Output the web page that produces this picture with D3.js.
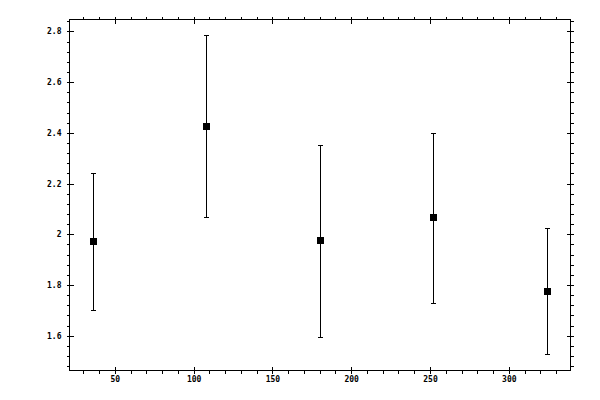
<!DOCTYPE html>
<html>
<head>
<meta charset="utf-8">
<script src="https://cdn.jsdelivr.net/npm/d3@7"></script>
<style>
  body { margin: 0; background: #fff; }
  text { font-family: "DejaVu Sans Mono", monospace; font-size: 8px; font-weight: bold; fill: #000; }
</style>
</head>
<body>
<script>

// data
var xValues = [36, 108, 180, 252, 324];
var yValues = [1.972, 2.426, 1.976, 2.067, 1.776];
var yHigh   = [2.243, 2.786, 2.353, 2.401, 2.024];
var yLow    = [1.703, 2.068, 1.597, 1.731, 1.530];

var xMajor = [50, 100, 150, 200, 250, 300];
var xMinor = [30, 40, 60, 70, 80, 90, 110, 120, 130, 140, 160, 170, 180, 190,
              210, 220, 230, 240, 260, 270, 280, 290, 310, 320, 330];
var yMajor = [1.6, 1.8, 2.0, 2.2, 2.4, 2.6, 2.8];
var yMinor = [1.48, 1.52, 1.56, 1.64, 1.68, 1.72, 1.76, 1.84, 1.88, 1.92, 1.96,
              2.04, 2.08, 2.12, 2.16, 2.24, 2.28, 2.32, 2.36, 2.44, 2.48, 2.52, 2.56,
              2.64, 2.68, 2.72, 2.76, 2.84];


(function() {

var pLeft = 69.5, pRight = 570.5, pTop = 19.5, pBottom = 370.5;

var svg = d3.select("body").append("svg")
    .attr("width", 600)
    .attr("height", 400);

var x = d3.scaleLinear().domain([21.26, 339.15]).range([pLeft, pRight]);
var y = d3.scaleLinear().domain([1.463, 2.847]).range([pBottom, pTop]);

function fmt(d) { return d3.format("~g")(d); }

// one axis call per side: outward minor, outward major (labels), inward major
function addAxis(maker, scale, transform, values, size, labels, pad) {
    var ax = maker(scale).tickValues(values).tickSizeOuter(0).tickSize(size);
    if (labels) ax.tickFormat(fmt).tickPadding(pad);
    else ax.tickFormat("");
    var g = svg.append("g").attr("transform", transform).call(ax);
    g.select(".domain").remove();
    g.selectAll("line").attr("stroke", "#000").attr("shape-rendering", "crispEdges");
    g.selectAll("text").attr("font-family", null).attr("font-size", null);
    if (!labels) g.selectAll("text").remove();
    return g;
}

// bottom
addAxis(d3.axisBottom, x, "translate(0," + pBottom + ")", xMinor, 3, false);
addAxis(d3.axisBottom, x, "translate(0," + pBottom + ")", xMajor, 3, true, 3.3);
addAxis(d3.axisBottom, x, "translate(0," + pBottom + ")", xMajor, -4, false);
// top
addAxis(d3.axisTop, x, "translate(0," + pTop + ")", xMinor, 3, false);
addAxis(d3.axisTop, x, "translate(0," + pTop + ")", xMajor, 3, false);
addAxis(d3.axisTop, x, "translate(0," + pTop + ")", xMajor, -4, false);
// left
addAxis(d3.axisLeft, y, "translate(" + pLeft + ",0)", yMinor, 3, false);
addAxis(d3.axisLeft, y, "translate(" + pLeft + ",0)", yMajor, 3, true, 5);
addAxis(d3.axisLeft, y, "translate(" + pLeft + ",0)", yMajor, -4, false);
// right
addAxis(d3.axisRight, y, "translate(" + pRight + ",0)", yMinor, 3, false);
addAxis(d3.axisRight, y, "translate(" + pRight + ",0)", yMajor, 3, false);
addAxis(d3.axisRight, y, "translate(" + pRight + ",0)", yMajor, -4, false);

// frame
svg.append("rect")
    .attr("x", pLeft).attr("y", pTop)
    .attr("width", pRight - pLeft).attr("height", pBottom - pTop)
    .attr("fill", "none").attr("stroke", "#000")
    .attr("shape-rendering", "crispEdges");


var pts = svg.append("g");
var idx = d3.range(xValues.length);

// error bars
pts.selectAll(".bar").data(idx).enter().append("line")
    .attr("x1", function(i) { return Math.round(x(xValues[i])) + 0.5; })
    .attr("x2", function(i) { return Math.round(x(xValues[i])) + 0.5; })
    .attr("y1", function(i) { return y(yHigh[i]); })
    .attr("y2", function(i) { return y(yLow[i]); })
    .attr("stroke", "#000").attr("shape-rendering", "crispEdges");

// caps
[yHigh, yLow].forEach(function(arr) {
    pts.selectAll(null).data(idx).enter().append("line")
        .attr("x1", function(i) { return Math.round(x(xValues[i])) - 2; })
        .attr("x2", function(i) { return Math.round(x(xValues[i])) + 3; })
        .attr("y1", function(i) { return Math.round(y(arr[i])) + 0.5; })
        .attr("y2", function(i) { return Math.round(y(arr[i])) + 0.5; })
        .attr("stroke", "#000").attr("shape-rendering", "crispEdges");
});

// square markers
pts.selectAll("rect").data(idx).enter().append("rect")
    .attr("x", function(i) { return Math.round(x(xValues[i])) - 3; })
    .attr("y", function(i) { return Math.round(y(yValues[i])) - 3; })
    .attr("width", 7).attr("height", 7)
    .attr("fill", "#000");

})();

</script>
</body>
</html>
